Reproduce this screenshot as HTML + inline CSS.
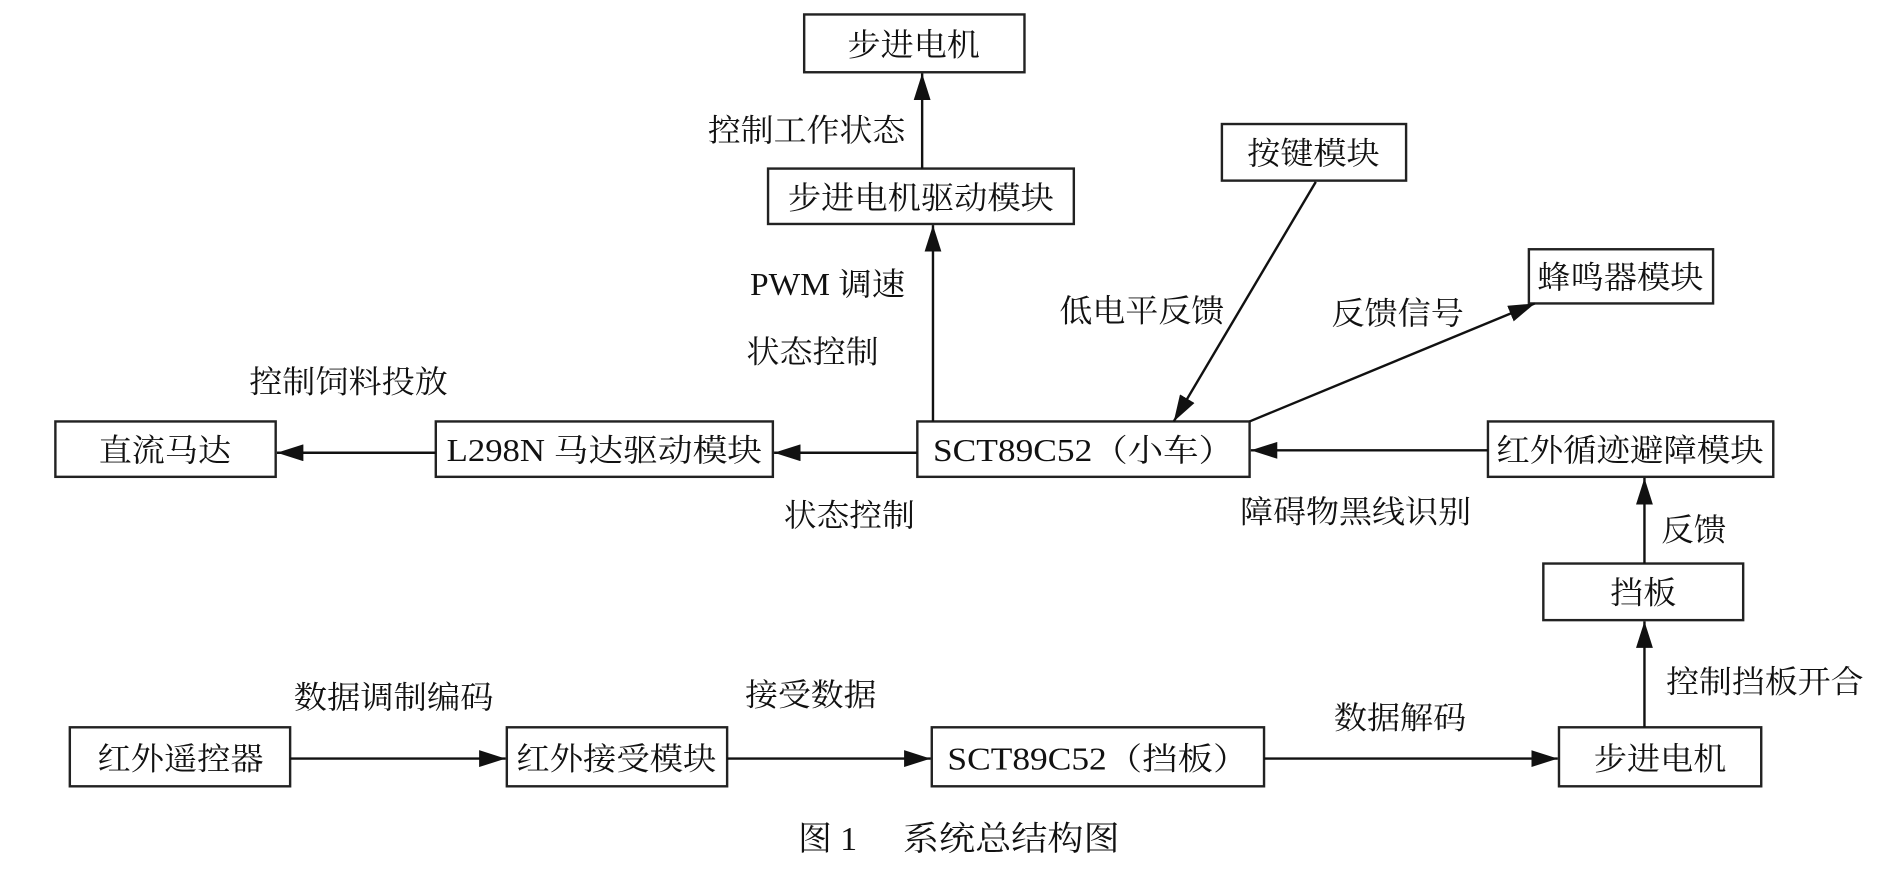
<!DOCTYPE html>
<html><head><meta charset="utf-8"><style>html,body{margin:0;padding:0;background:#fff}svg{display:block}</style></head>
<body>
<svg width="1878" height="873" viewBox="0 0 1560 725" preserveAspectRatio="none" xmlns="http://www.w3.org/2000/svg">
<defs>
<marker id="b" viewBox="0 0 22 14" refX="22" refY="7" markerWidth="22" markerHeight="14" markerUnits="userSpaceOnUse" orient="auto"><path d="M0,0L22,7L0,14z" fill="#111"/></marker></defs>
<g fill="#fff" stroke="#222" stroke-width="2">
<rect x="668" y="12" width="183" height="48"/>
<rect x="638" y="140" width="254" height="46"/>
<rect x="1015" y="103" width="153" height="47"/>
<rect x="1270" y="207" width="153" height="45"/>
<rect x="46" y="350" width="183" height="46"/>
<rect x="362" y="350" width="280" height="46"/>
<rect x="762" y="350" width="276" height="46"/>
<rect x="1236" y="350" width="237" height="46"/>
<rect x="1282" y="468" width="166" height="47"/>
<rect x="58" y="604" width="183" height="49"/>
<rect x="421" y="604" width="183" height="49"/>
<rect x="774" y="604" width="276" height="49"/>
<rect x="1295" y="604" width="168" height="49"/>
</g>
<g stroke="#111" stroke-width="2" fill="none" marker-end="url(#b)">
<line x1="766" y1="140" x2="766" y2="61"/>
<line x1="775" y1="350" x2="775" y2="187"/>
<line x1="762" y1="376" x2="643" y2="376"/>
<line x1="362" y1="376" x2="230" y2="376"/>
<line x1="1236" y1="374" x2="1039" y2="374"/>
<line x1="1093" y1="151" x2="975" y2="350"/>
<line x1="1038" y1="350" x2="1275" y2="252"/>
<line x1="1366" y1="468" x2="1366" y2="397"/>
<line x1="1366" y1="604" x2="1366" y2="516"/>
<line x1="241" y1="630" x2="420" y2="630"/>
<line x1="604" y1="630" x2="773" y2="630"/>
<line x1="1050" y1="630" x2="1294" y2="630"/>
</g>
<g font-family="'Liberation Serif','Noto Serif CJK SC',serif" font-size="26" fill="#111" text-anchor="middle">
<text x="759" y="46" textLength="110" lengthAdjust="spacingAndGlyphs">步进电机</text>
<text x="765" y="173" textLength="221" lengthAdjust="spacingAndGlyphs">步进电机驱动模块</text>
<text x="1091" y="136" textLength="110" lengthAdjust="spacingAndGlyphs">按键模块</text>
<text x="1346" y="239" textLength="138" lengthAdjust="spacingAndGlyphs">蜂鸣器模块</text>
<text x="137" y="383" textLength="110" lengthAdjust="spacingAndGlyphs">直流马达</text>
<text x="502" y="383" textLength="262" lengthAdjust="spacingAndGlyphs">L298N 马达驱动模块</text>
<text x="900" y="383" textLength="250" lengthAdjust="spacingAndGlyphs">SCT89C52（小车）</text>
<text x="1354" y="383" textLength="222" lengthAdjust="spacingAndGlyphs">红外循迹避障模块</text>
<text x="1365" y="501" textLength="55" lengthAdjust="spacingAndGlyphs">挡板</text>
<text x="150" y="639" textLength="138" lengthAdjust="spacingAndGlyphs">红外遥控器</text>
<text x="512" y="639" textLength="166" lengthAdjust="spacingAndGlyphs">红外接受模块</text>
<text x="912" y="639" textLength="250" lengthAdjust="spacingAndGlyphs">SCT89C52（挡板）</text>
<text x="1379" y="639" textLength="110" lengthAdjust="spacingAndGlyphs">步进电机</text>
</g>
<g font-family="'Liberation Serif','Noto Serif CJK SC',serif" font-size="26" fill="#111">
<text x="588" y="117" textLength="164" lengthAdjust="spacingAndGlyphs">控制工作状态</text>
<text x="623" y="245" textLength="129" lengthAdjust="spacingAndGlyphs">PWM 调速</text>
<text x="620" y="301" textLength="110" lengthAdjust="spacingAndGlyphs">状态控制</text>
<text x="207" y="326" textLength="165" lengthAdjust="spacingAndGlyphs">控制饲料投放</text>
<text x="651" y="437" textLength="109" lengthAdjust="spacingAndGlyphs">状态控制</text>
<text x="880" y="267" textLength="137" lengthAdjust="spacingAndGlyphs">低电平反馈</text>
<text x="1106" y="269" textLength="110" lengthAdjust="spacingAndGlyphs">反馈信号</text>
<text x="1030" y="434" textLength="192" lengthAdjust="spacingAndGlyphs">障碍物黑线识别</text>
<text x="1380" y="449" textLength="54" lengthAdjust="spacingAndGlyphs">反馈</text>
<text x="1384" y="575" textLength="164" lengthAdjust="spacingAndGlyphs">控制挡板开合</text>
<text x="244" y="588" textLength="166" lengthAdjust="spacingAndGlyphs">数据调制编码</text>
<text x="619" y="586" textLength="109" lengthAdjust="spacingAndGlyphs">接受数据</text>
<text x="1108" y="605" textLength="110" lengthAdjust="spacingAndGlyphs">数据解码</text>
<text x="663" y="706" font-size="28">图 1</text>
<text x="750" y="706" font-size="28" textLength="180" lengthAdjust="spacingAndGlyphs">系统总结构图</text>
</g>
</svg>
</body></html>
